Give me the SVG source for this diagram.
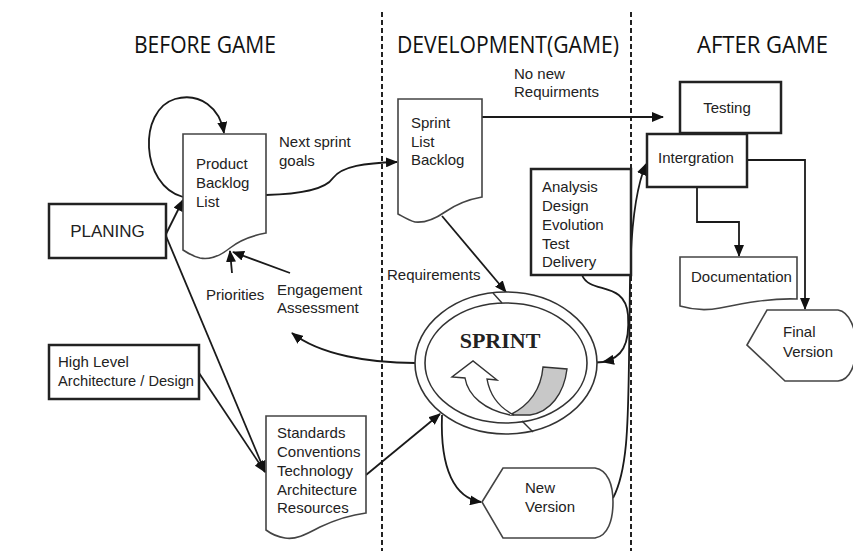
<svg xmlns="http://www.w3.org/2000/svg" width="853" height="551" viewBox="0 0 853 551">
<defs>
<marker id="ah" markerUnits="userSpaceOnUse" markerWidth="12" markerHeight="10" refX="11" refY="5" orient="auto">
<path d="M0,0 L12,5 L0,10 Z" fill="#111"/>
</marker>
<style>
.hdr{font-family:"Open Sans","Liberation Sans",sans-serif;font-size:24px;fill:#111}
.t{font-family:"Liberation Sans",Arial,sans-serif;font-size:15px;fill:#222}
.box{fill:#fff;stroke:#222;stroke-width:2.5}
.doc{fill:#fff;stroke:#444;stroke-width:1.6}
.c{fill:none;stroke:#1a1a1a;stroke-width:1.8}
.ca{fill:none;stroke:#1a1a1a;stroke-width:1.8;marker-end:url(#ah)}
.dash{stroke:#222;stroke-width:2;stroke-dasharray:5 3}
</style>
</defs>
<rect width="853" height="551" fill="#fff"/>
<g id="lanes">
<line class="dash" x1="382" y1="12" x2="382" y2="551"/>
<line class="dash" x1="631" y1="12" x2="631" y2="551"/>
<text class="hdr" x="134" y="53" textLength="142" lengthAdjust="spacingAndGlyphs">BEFORE GAME</text>
<text class="hdr" x="397" y="53" textLength="222" lengthAdjust="spacingAndGlyphs">DEVELOPMENT(GAME)</text>
<text class="hdr" x="697" y="53" textLength="131" lengthAdjust="spacingAndGlyphs">AFTER GAME</text>
</g>
<g id="connectors">
<path class="ca" d="M183,197 C140,185 138,110 175,99 C200,92 220,108 224,133"/>
<path class="ca" d="M166,234 L183,200"/>
<path class="ca" d="M166,236 L265,472"/>
<path class="ca" d="M199,373 L265,472"/>
<path class="ca" d="M232,273 L230,251"/>
<path class="ca" d="M290,273 L233,252"/>
<path class="ca" d="M266,195 C300,194 325,190 333,178 C342,166 365,163 397,162"/>
<path class="ca" d="M482,117 H663"/>
<path class="ca" d="M442,216 L506,292"/>
<path class="ca" d="M582,275 C590,295 625,280 628,315 C630,345 622,358 603,362"/>
<path class="c" d="M588,363 L603,362"/>
<path class="ca" d="M415,363 C370,363 320,355 292,333"/>
<path class="ca" d="M366,475 L440,414"/>
<path class="ca" d="M442,415 C440,470 455,498 481,502"/>
<path class="ca" d="M613,498 C628,470 628,420 629,360 L630,280 C631,220 637,185 646,164"/>
<path class="ca" d="M697,187 V222 H739 V256"/>
<path class="ca" d="M747,160 H805 V309"/>
</g>
<g id="planing">
<rect class="box" x="49" y="204" width="117" height="54"/>
<text class="t" x="107.5" y="237" text-anchor="middle" style="font-size:17px">PLANING</text>
</g>
<g id="product-backlog">
<path class="doc" d="M183,134 H266 V233 C250,236 240,240 230,248 C220,256 210,260 200,258 C192,256 186,252 183,250 Z"/>
<text class="t" x="196" y="169">Product</text>
<text class="t" x="196" y="188">Backlog</text>
<text class="t" x="196" y="207">List</text>
</g>
<g id="high-level">
<rect class="box" x="49" y="345" width="150" height="54"/>
<text class="t" x="58" y="367">High Level</text>
<text class="t" x="58" y="386" textLength="136" lengthAdjust="spacingAndGlyphs">Architecture / Design</text>
</g>
<g id="standards">
<path class="doc" d="M266,416 H366 V513 C350,515 335,520 320,527 C305,535 295,540 285,538 C278,537 270,533 266,530 Z"/>
<text class="t" x="277" y="438">Standards</text>
<text class="t" x="277" y="457">Conventions</text>
<text class="t" x="277" y="476">Technology</text>
<text class="t" x="277" y="495">Architecture</text>
<text class="t" x="277" y="513">Resources</text>
</g>
<g id="labels">
<text class="t" x="279" y="147">Next sprint</text>
<text class="t" x="279" y="166">goals</text>
<text class="t" x="206" y="300">Priorities</text>
<text class="t" x="277" y="295">Engagement</text>
<text class="t" x="277" y="313">Assessment</text>
<text class="t" x="514" y="79">No new</text>
<text class="t" x="514" y="97">Requirments</text>
<text class="t" x="387" y="280">Requirements</text>
</g>
<g id="sprint-list">
<path class="doc" d="M398,99 H482 V197 C465,200 455,205 445,212 C435,219 425,223 415,222 C408,220 402,216 398,214 Z"/>
<text class="t" x="411" y="128">Sprint</text>
<text class="t" x="411" y="147">List</text>
<text class="t" x="411" y="165">Backlog</text>
</g>
<g id="analysis">
<rect class="box" x="531" y="169" width="100" height="106"/>
<text class="t" x="542" y="192">Analysis</text>
<text class="t" x="542" y="211">Design</text>
<text class="t" x="542" y="230">Evolution</text>
<text class="t" x="542" y="249">Test</text>
<text class="t" x="542" y="267">Delivery</text>
</g>
<g id="sprint">
<ellipse cx="506" cy="363" rx="91" ry="71" fill="#fff" stroke="#333" stroke-width="1.6"/>
<ellipse cx="506" cy="363" rx="81" ry="60" fill="#fff" stroke="#333" stroke-width="1.6"/>
<line x1="493" y1="293" x2="502" y2="303" stroke="#333" stroke-width="1.4"/>
<line x1="522" y1="421" x2="533" y2="432" stroke="#333" stroke-width="1.4"/>
<text x="500" y="348" text-anchor="middle" font-family="'Liberation Serif','Times New Roman',serif" font-weight="bold" font-size="22" fill="#222">SPRINT</text>
<path d="M543,367 L567,369 C564,394 550,412 530,415 L510,415 C530,405 541,390 543,367 Z" fill="#c8c8c8" stroke="#333" stroke-width="1.4"/>
<path d="M510,415 C485,410 468,396 465,378 L452,377 L473,361 L497,380 L487,379 C490,396 500,408 514,415" fill="#fff" stroke="#333" stroke-width="1.4"/>
</g>
<g id="new-version">
<path class="doc" d="M482,502 L503,468 L595,468 C608,470 613,485 613,502 C613,520 608,536 595,538 L503,538 Z"/>
<text class="t" x="525" y="493">New</text>
<text class="t" x="525" y="512">Version</text>
</g>
<g id="testing">
<rect class="box" x="680" y="82" width="101" height="51"/>
<text class="t" x="727" y="113" text-anchor="middle">Testing</text>
</g>
<g id="intergration">
<rect class="box" x="647" y="134" width="100" height="53"/>
<text class="t" x="658" y="163">Intergration</text>
</g>
<g id="documentation">
<path class="doc" d="M680,257 H797 V299 C770,298 745,303 720,308 C705,311 690,309 680,306 Z"/>
<text class="t" x="691" y="282">Documentation</text>
</g>
<g id="final-version">
<path class="doc" d="M747,345 L767,310 L838,310 C850,312 856,330 856,345 C856,365 850,380 838,381 L785,381 Z"/>
<text class="t" x="783" y="337">Final</text>
<text class="t" x="783" y="357">Version</text>
</g>
</svg>
